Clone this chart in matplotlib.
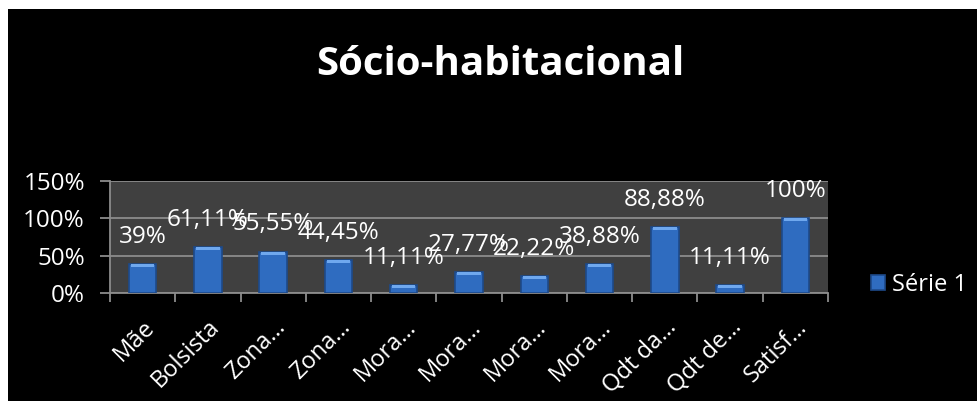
import matplotlib.pyplot as plt
import numpy as np
from matplotlib.patches import Rectangle

plt.rcParams['font.family'] = ['Open Sans', 'DejaVu Sans']

categories = ["Mãe", "Bolsista", "Zona…", "Zona…", "Mora…", "Mora…", "Mora…",
              "Mora…", "Qdt da…", "Qdt de…", "Satisf…"]
values = [39, 61.11, 55.55, 44.45, 11.11, 27.77, 22.22, 38.88, 88.88, 11.11, 100]
value_labels = ["39%", "61,11%", "55,55%", "44,45%", "11,11%", "27,77%", "22,22%",
                "38,88%", "88,88%", "11,11%", "100%"]
series_name = "Série 1"
title = "Sócio-habitacional"


def main():
    fig = plt.figure(figsize=(9.78, 4.01), dpi=100, facecolor="white")
    # black chart area with thin white margin on top/left
    fig.patches.append(Rectangle((8 / 978, 0), 1, 1 - 9 / 401, transform=fig.transFigure,
                                 facecolor="black", edgecolor="none", zorder=-10))

    ax = fig.add_axes([0.1125, 0.2693, 0.7341, 0.2793])
    ax.set_facecolor("#404040")

    x = np.arange(len(categories))
    bars = ax.bar(x, values, width=0.42, color="#2f6cc0", edgecolor="#1d4a8a",
                  linewidth=1.2, zorder=3, label=series_name)
    # lighter top cap for a bit of the 3D look
    ax.bar(x, [min(4, v * 0.5) for v in values], bottom=[v - min(4, v * 0.5) for v in values],
           width=0.36, color="#6fa8ee", edgecolor="none", zorder=4)

    for xi, v, lab in zip(x, values, value_labels):
        ax.annotate(lab, (xi, v), xytext=(0, 19.5), textcoords="offset points",
                    ha="center", va="center", color="white", fontsize=17.5, zorder=5)

    ax.set_xlim(-0.5, len(categories) - 0.5)
    ax.set_ylim(0, 150)
    ax.set_yticks([0, 50, 100, 150])
    ax.set_yticklabels(["0%", "50%", "100%", "150%"], color="white", fontsize=17.5)
    ax.yaxis.grid(True, color="#8c8c8c", linewidth=1.3, zorder=1)
    ax.set_axisbelow(True)

    ax.set_xticks(x)
    ax.set_xticklabels(categories, rotation=45, ha="right", rotation_mode="anchor",
                       color="white", fontsize=17)
    ax.set_xticks(np.arange(len(categories) + 1) - 0.5, minor=True)
    ax.tick_params(axis="x", which="major", length=0, pad=16)
    ax.tick_params(axis="x", which="minor", length=6.5, width=1.3, color="#8c8c8c")
    ax.tick_params(axis="y", length=7, width=1.3, color="#8c8c8c", pad=11)

    for side in ["top", "right"]:
        ax.spines[side].set_visible(False)
    for side in ["left", "bottom"]:
        ax.spines[side].set_color("#8c8c8c")
        ax.spines[side].set_linewidth(1.3)

    fig.text(0.512, 0.84, title, ha="center", va="center", color="white",
             fontsize=29, fontweight="bold")

    leg = fig.legend(handles=[bars], labels=[series_name], loc="center left",
                     bbox_to_anchor=(0.869, 0.29), frameon=False, fontsize=17,
                     handlelength=0.6, handleheight=0.6, handletextpad=0.3)
    for t in leg.get_texts():
        t.set_color("white")

    fig.savefig("out.png", dpi=100, facecolor=fig.get_facecolor())


if __name__ == "__main__":
    main()
